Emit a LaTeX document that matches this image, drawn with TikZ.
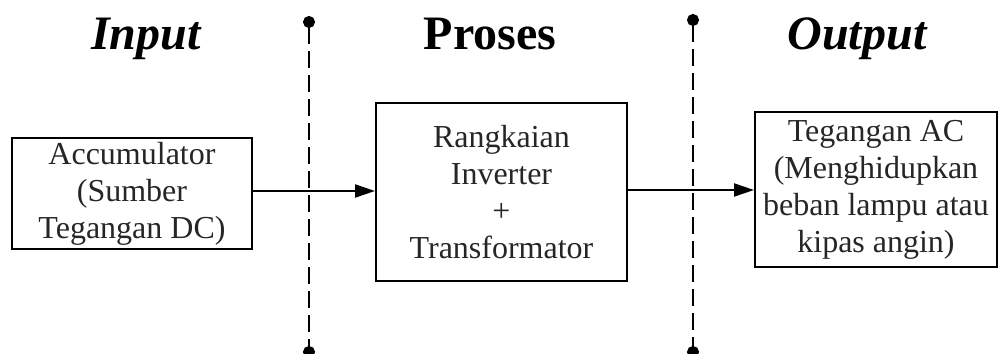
\documentclass[tikz,border=0pt]{standalone}
\usepackage{fontspec}
\setmainfont{Liberation Serif}
\usepackage{tikz}
\usetikzlibrary{positioning, arrows.meta}

\begin{document}
\begin{tikzpicture}[
    x=0.5pt, y=-0.5pt,
    blok/.style={
      draw, line width=1pt, align=center, inner sep=2pt,
      font=\fontsize{16}{18.5}\selectfont, text=black!85
    },
    judul/.style={anchor=base, font=\fontsize{24}{28}\selectfont\bfseries},
    panah/.style={-{Triangle[length=10pt, width=6.5pt]}, line width=1pt},
    batas/.style={{Circle[length=6pt]}-{Circle[length=6pt]},
      line width=0.9pt, dash pattern=on 8.5pt off 3.5pt},
]
    \useasboundingbox (0,0) rectangle (999,353);

    % Headings
    \node[judul, font=\fontsize{24}{28}\selectfont\bfseries\itshape] (hin) at (146,50) {Input};
    \node[judul] (hpro) at (490,50) {Proses};
    \node[judul, font=\fontsize{24}{28}\selectfont\bfseries\itshape] (hout) at (857,50) {Output};

    % Blocks
    \node[blok, minimum width=120pt, minimum height=54.5pt] (aki) at (132,193.5)
      {Accumulator\\(Sumber\\Tegangan DC)};
    \node[blok, minimum width=125.5pt, minimum height=89pt] (inv) at (501.5,192)
      {Rangkaian\\Inverter\\+\\Transformator};
    \node[blok, minimum width=121pt, minimum height=77.5pt] (beban) at (876,189.5)
      {Tegangan AC\\(Menghidupkan\\beban lampu atau\\kipas angin)};

    \draw[panah] (aki.east |- 0,191) -- (inv.west |- 0,191);
    \draw[panah] (inv.east |- 0,190) -- (beban.west |- 0,190);

    % Boundaries
    \coordinate (b1atas) at (309,16);
    \coordinate (b1bawah) at (309,358);
    \coordinate (b2atas) at (693,14);
    \coordinate (b2bawah) at (693,358);
    \draw[batas] (b1atas) -- (b1bawah);
    \draw[batas] (b2atas) -- (b2bawah);
\end{tikzpicture}
\end{document}
